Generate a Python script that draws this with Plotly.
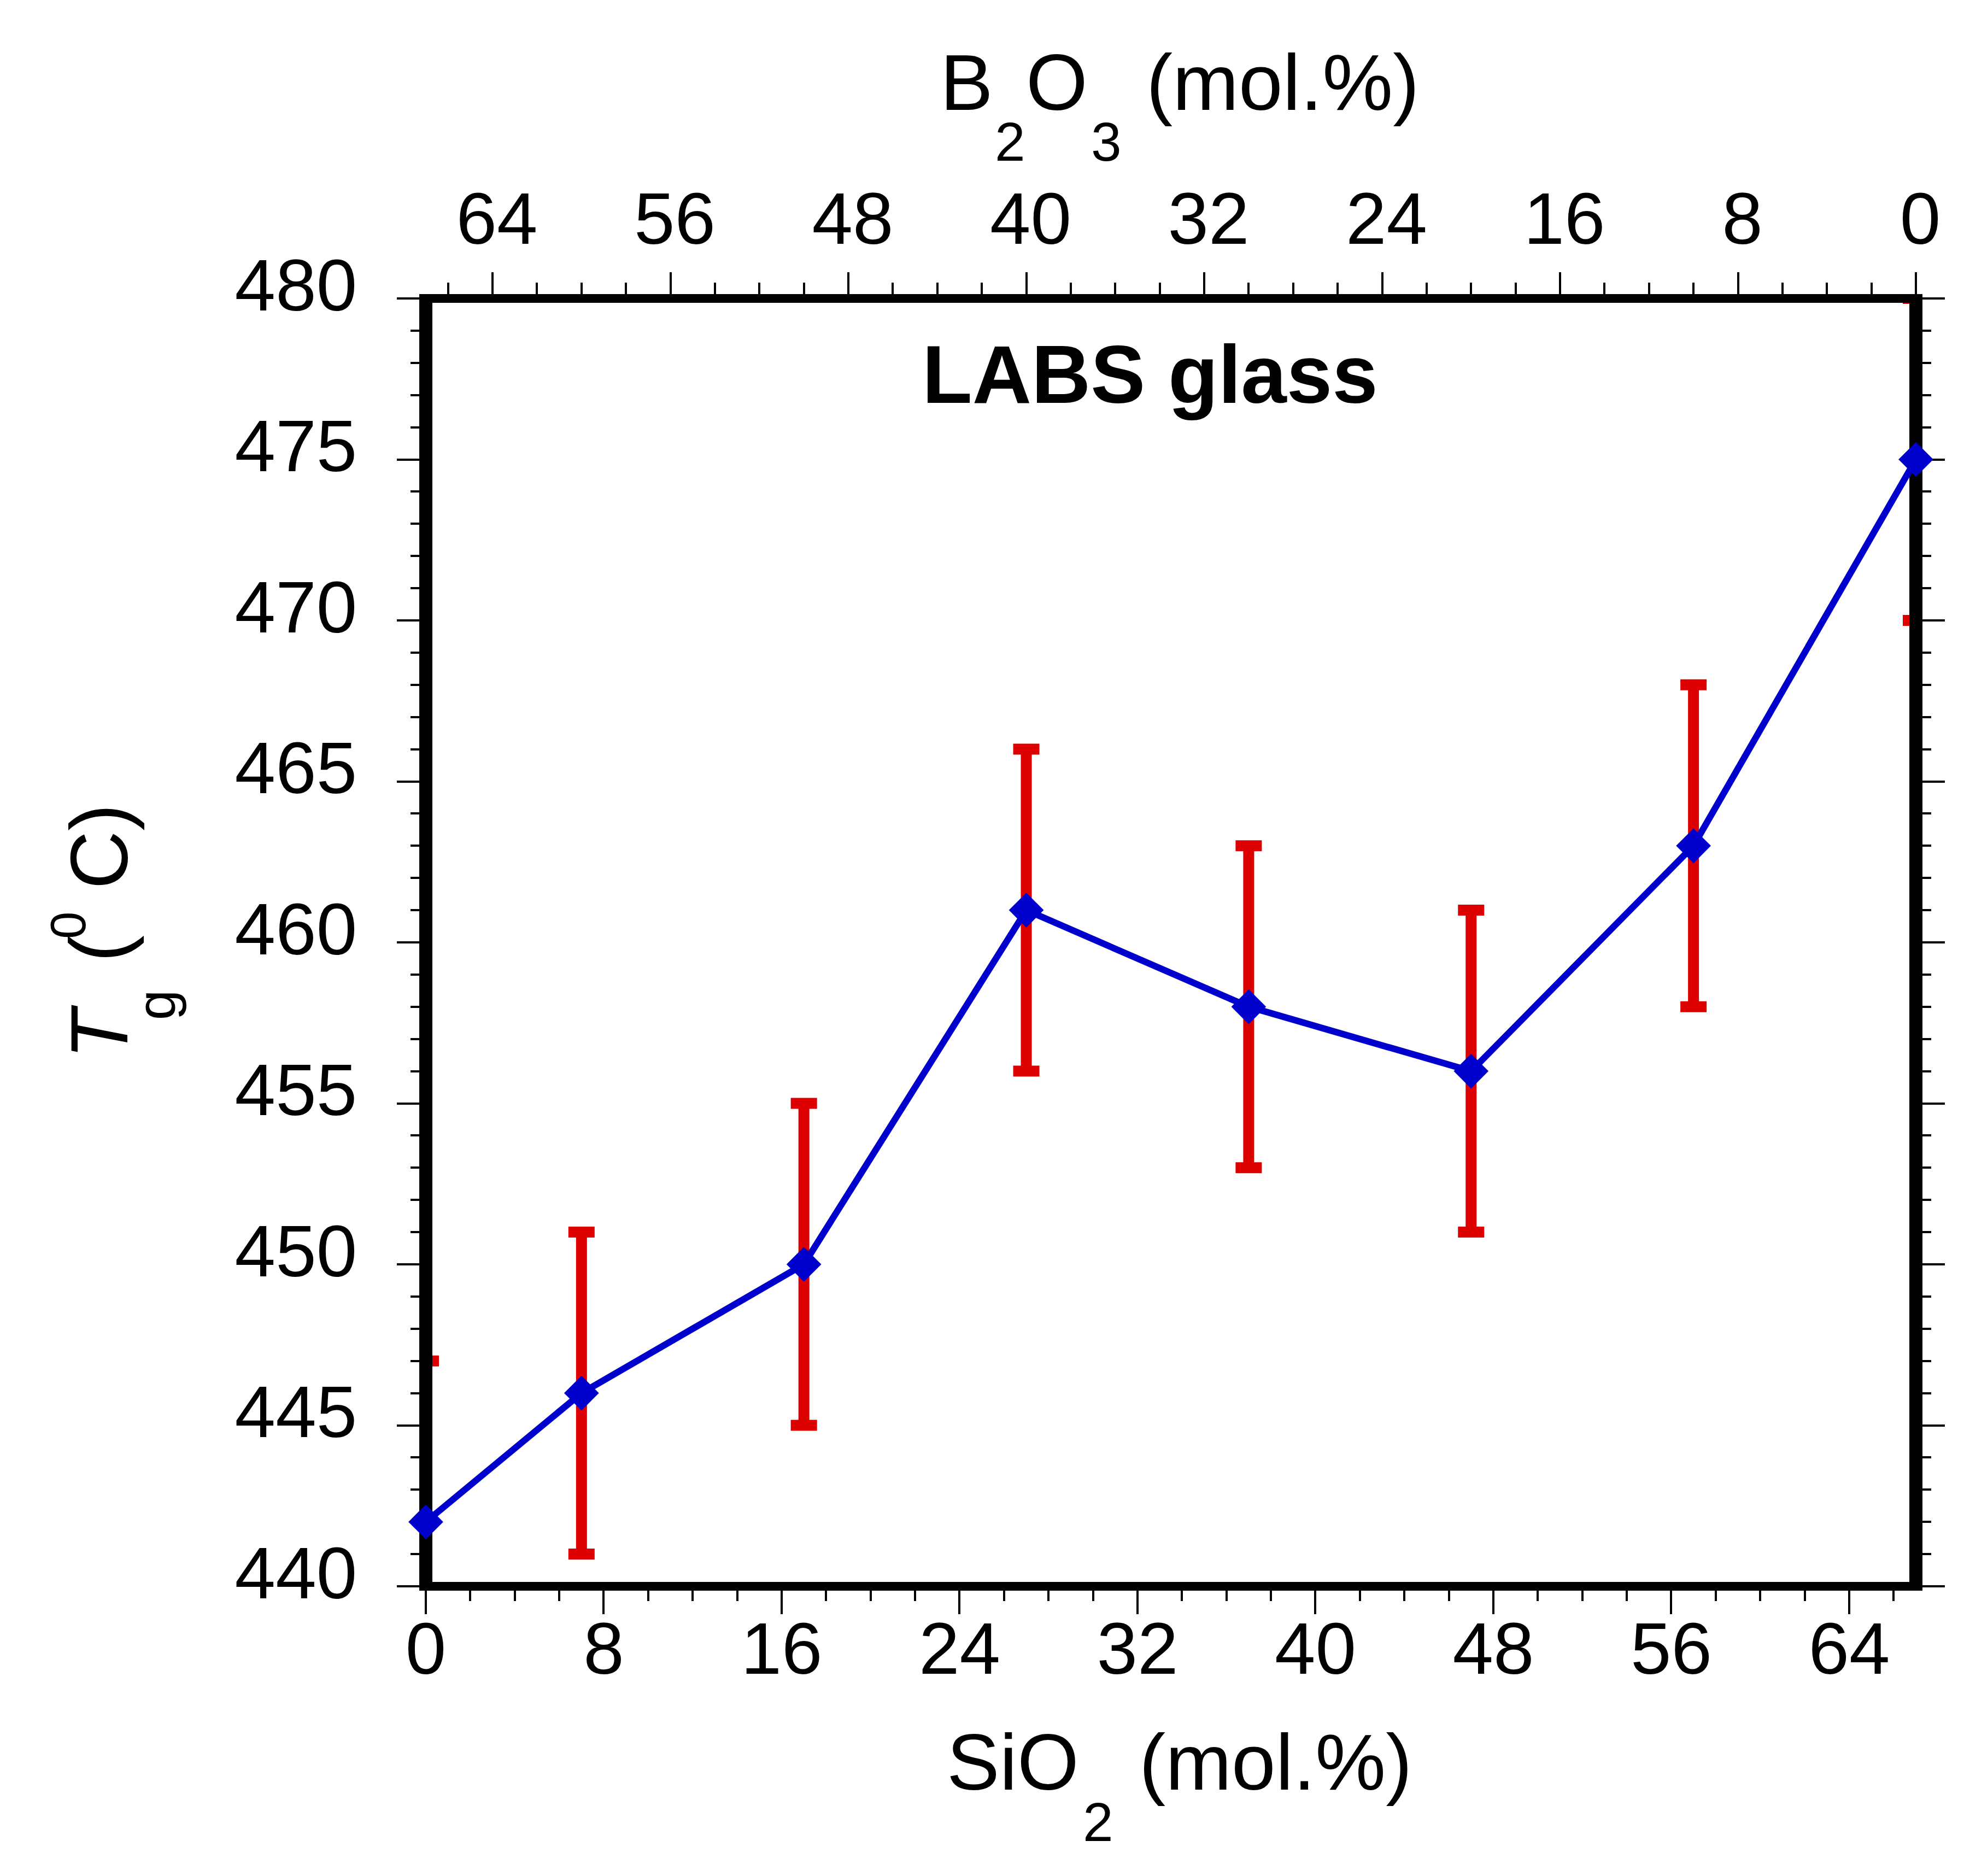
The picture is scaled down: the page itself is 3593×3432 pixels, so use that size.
# %%
# package import
import plotly.graph_objects as go

# %%
# data
sio2 = [0, 7, 17, 27, 37, 47, 57, 67]  # SiO2 (mol.%)
tg = [442, 446, 450, 461, 458, 456, 463, 475]  # Tg (C)
tg_err = [5, 5, 5, 5, 5, 5, 5, 5]

x_range = [0, 67]  # B2O3 = 67 - SiO2 on the top axis
y_range = [440, 480]

# %%
# page geometry (pixels)
W, H = 3593, 3432
L, R, T, B = 771, 3497, 538, 2894
FONT = "Arial, Liberation Sans, sans-serif"
BLUE = "#0000CD"
RED = "#DD0000"


def px(p):
    return (p - L) / (R - L)


def py(p):
    return (B - p) / (B - T)


fig = go.Figure()

# error bars sit under the frame
fig.add_trace(
    go.Scatter(
        x=sio2,
        y=tg,
        mode="markers",
        marker=dict(size=1, color="rgba(0,0,0,0)"),
        error_y=dict(type="data", array=tg_err, color=RED, thickness=20, width=24),
        cliponaxis=True,
        showlegend=False,
        hoverinfo="skip",
    )
)
# line + diamonds on a twin subplot so they draw over the frame
fig.add_trace(
    go.Scatter(
        x=sio2,
        y=tg,
        mode="lines+markers",
        line=dict(color=BLUE, width=12),
        marker=dict(symbol="diamond", size=49, color=BLUE),
        cliponaxis=False,
        xaxis="x3",
        yaxis="y3",
        showlegend=False,
    )
)

tick_font = dict(family=FONT, size=134, color="black")
fig.update_layout(
    width=W,
    height=H,
    margin=dict(l=L, r=W - R, t=T, b=H - B, pad=0),
    paper_bgcolor="white",
    plot_bgcolor="rgba(0,0,0,0)",
    font=dict(family=FONT, color="black"),
    xaxis=dict(
        range=x_range,
        tickmode="linear",
        tick0=0,
        dtick=8,
        ticks="outside",
        ticklen=43,
        tickwidth=4,
        tickcolor="black",
        minor=dict(dtick=2, ticks="outside", ticklen=19, tickwidth=4, tickcolor="black"),
        showline=True,
        linewidth=8,
        linecolor="black",
        showgrid=False,
        zeroline=False,
        tickfont=tick_font,
        ticklabelstandoff=-52,
    ),
    xaxis2=dict(
        range=[x_range[1], x_range[0]],
        overlaying="x",
        side="top",
        anchor="y",
        tickmode="linear",
        tick0=0,
        dtick=8,
        ticks="outside",
        ticklen=40,
        tickwidth=4,
        tickcolor="black",
        minor=dict(dtick=2, ticks="outside", ticklen=21, tickwidth=4, tickcolor="black"),
        showline=True,
        linewidth=8,
        linecolor="black",
        showgrid=False,
        zeroline=False,
        tickfont=tick_font,
        ticklabelstandoff=-2,
        ticklabelshift=-8,
    ),
    yaxis=dict(
        range=y_range,
        tickmode="linear",
        tick0=440,
        dtick=5,
        ticks="outside",
        ticklen=41,
        tickwidth=4,
        tickcolor="black",
        minor=dict(dtick=1, ticks="outside", ticklen=16, tickwidth=4, tickcolor="black"),
        showline=True,
        linewidth=12,
        linecolor="black",
        mirror="ticks",
        showgrid=False,
        zeroline=False,
        tickfont=tick_font,
        ticklabelstandoff=46,
        ticklabelshift=-25,
    ),
    xaxis3=dict(domain=[0, 1], range=x_range, anchor="y3", visible=False),
    yaxis3=dict(domain=[0, 1], range=y_range, anchor="x3", visible=False),
)

# dummy trace so the top axis is drawn
fig.add_trace(
    go.Scatter(x=[], y=[], xaxis="x2", yaxis="y", showlegend=False, hoverinfo="skip")
)

# thick frame, centred on the plot edges, over the error bars but under the line
frame = [
    (x_range[0], y_range[0], x_range[0], y_range[1], 24),
    (x_range[1], y_range[0], x_range[1], y_range[1], 24),
    (x_range[0], y_range[0], x_range[1], y_range[0], 16),
    (x_range[0], y_range[1], x_range[1], y_range[1], 16),
]
for x0, y0, x1, y1, w in frame:
    fig.add_shape(
        type="line",
        xref="x3",
        yref="y3",
        x0=x0,
        y0=y0,
        x1=x1,
        y1=y1,
        line=dict(color="black", width=w),
        layer="below",
    )

# %%
# titles, built piece by piece so the subscripts sit low like the original
MID = 0.42  # baseline to box centre, in em


def label(text, left, base, size):
    fig.add_annotation(
        text=text,
        xref="paper",
        yref="paper",
        x=px(left),
        y=py(base - MID * size),
        xanchor="left",
        yanchor="middle",
        showarrow=False,
        font=dict(family=FONT, size=size, color="black"),
    )


label("SiO", 1722, 3277, 145)
label("2", 1971, 3367, 100)
label("(mol.%)", 2074, 3277, 145)

label("B", 1710, 204, 145)
label("2", 1810, 293, 100)
label("O", 1867, 204, 145)
label("3", 1986, 293, 100)
label("(mol.%)", 2087, 204, 145)


def ylabel(text, base, start, size):
    fig.add_annotation(
        text=text,
        xref="paper",
        yref="paper",
        x=px(base - 0.3465 * size),
        y=py(start),
        xanchor="center",
        yanchor="bottom",
        textangle=-90,
        showarrow=False,
        font=dict(family=FONT, size=size, color="black"),
    )


ylabel("<i>T</i>", 224, 1932, 148)
ylabel("g", 312, 1860, 100)
ylabel("(", 224, 1754, 148)
ylabel("0", 148, 1712, 90)
ylabel("C)", 224, 1621, 148)

fig.add_annotation(
    text="<b>LABS glass</b>",
    xref="paper",
    yref="paper",
    x=px(2096),
    y=py(740 - MID * 150),
    xanchor="center",
    yanchor="middle",
    showarrow=False,
    font=dict(family=FONT, size=150, color="black"),
)

fig.write_html("out.html")
